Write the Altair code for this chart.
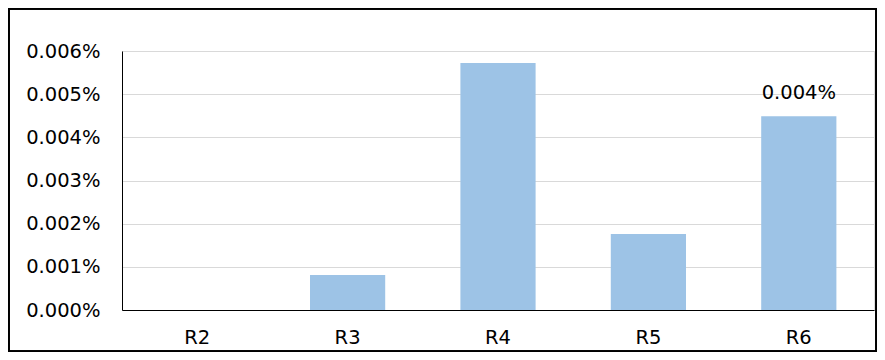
import altair as alt
import pandas as pd

categories = ["R2", "R3", "R4", "R5", "R6"]
values = [0.0, 0.0000081, 0.0000572, 0.0000176, 0.0000449]
labels = ["", "", "", "", "0.004%"]

df = pd.DataFrame({"cat": categories, "val": values, "lab": labels})

FONT = "DejaVu Sans"
FS = 19.5
W, H = 752, 259

x = alt.X("cat:N", sort=categories, title=None,
          scale=alt.Scale(paddingInner=0.5, paddingOuter=0.25),
          axis=alt.Axis(labelAngle=0, ticks=False, domainColor="#000000",
                        domainWidth=1, labelPadding=18, labelFontSize=FS,
                        labelFont=FONT, labelColor="#000000", grid=False))
y = alt.Y("val:Q", title=None,
          scale=alt.Scale(domain=[0, 0.00006], nice=False),
          axis=alt.Axis(format=".3%", values=[0, 0.00001, 0.00002, 0.00003, 0.00004, 0.00005, 0.00006],
                        ticks=False, domainColor="#000000", domainWidth=1,
                        labelPadding=22, labelFontSize=FS, labelFont=FONT,
                        labelColor="#000000", gridColor="#d9d9d9", gridWidth=1))

bars = alt.Chart(df).mark_bar(color="#9DC3E6").encode(x=x, y=y)

text = alt.Chart(df).mark_text(baseline="bottom", dy=-13, fontSize=FS, font=FONT,
                               color="#000000").encode(
    x=alt.X("cat:N", sort=categories), y="val:Q", text="lab:N")

border = alt.Chart(df).mark_rect(fill=None, stroke="#000000", strokeWidth=1.5,
                                 clip=False).encode(
    x=alt.value(-113.2), x2=alt.value(754.2), y=alt.value(-42.2), y2=alt.value(300.2))

chart = alt.layer(bars, text, border).properties(
    width=W, height=H,
    autosize=alt.AutoSizeParams(type="none"),
    padding={"left": 114, "top": 43, "right": 3, "bottom": 42},
).configure_view(stroke=None).configure(background="#ffffff")

chart.save("out.html", embed_options={"renderer": "svg", "actions": False})
